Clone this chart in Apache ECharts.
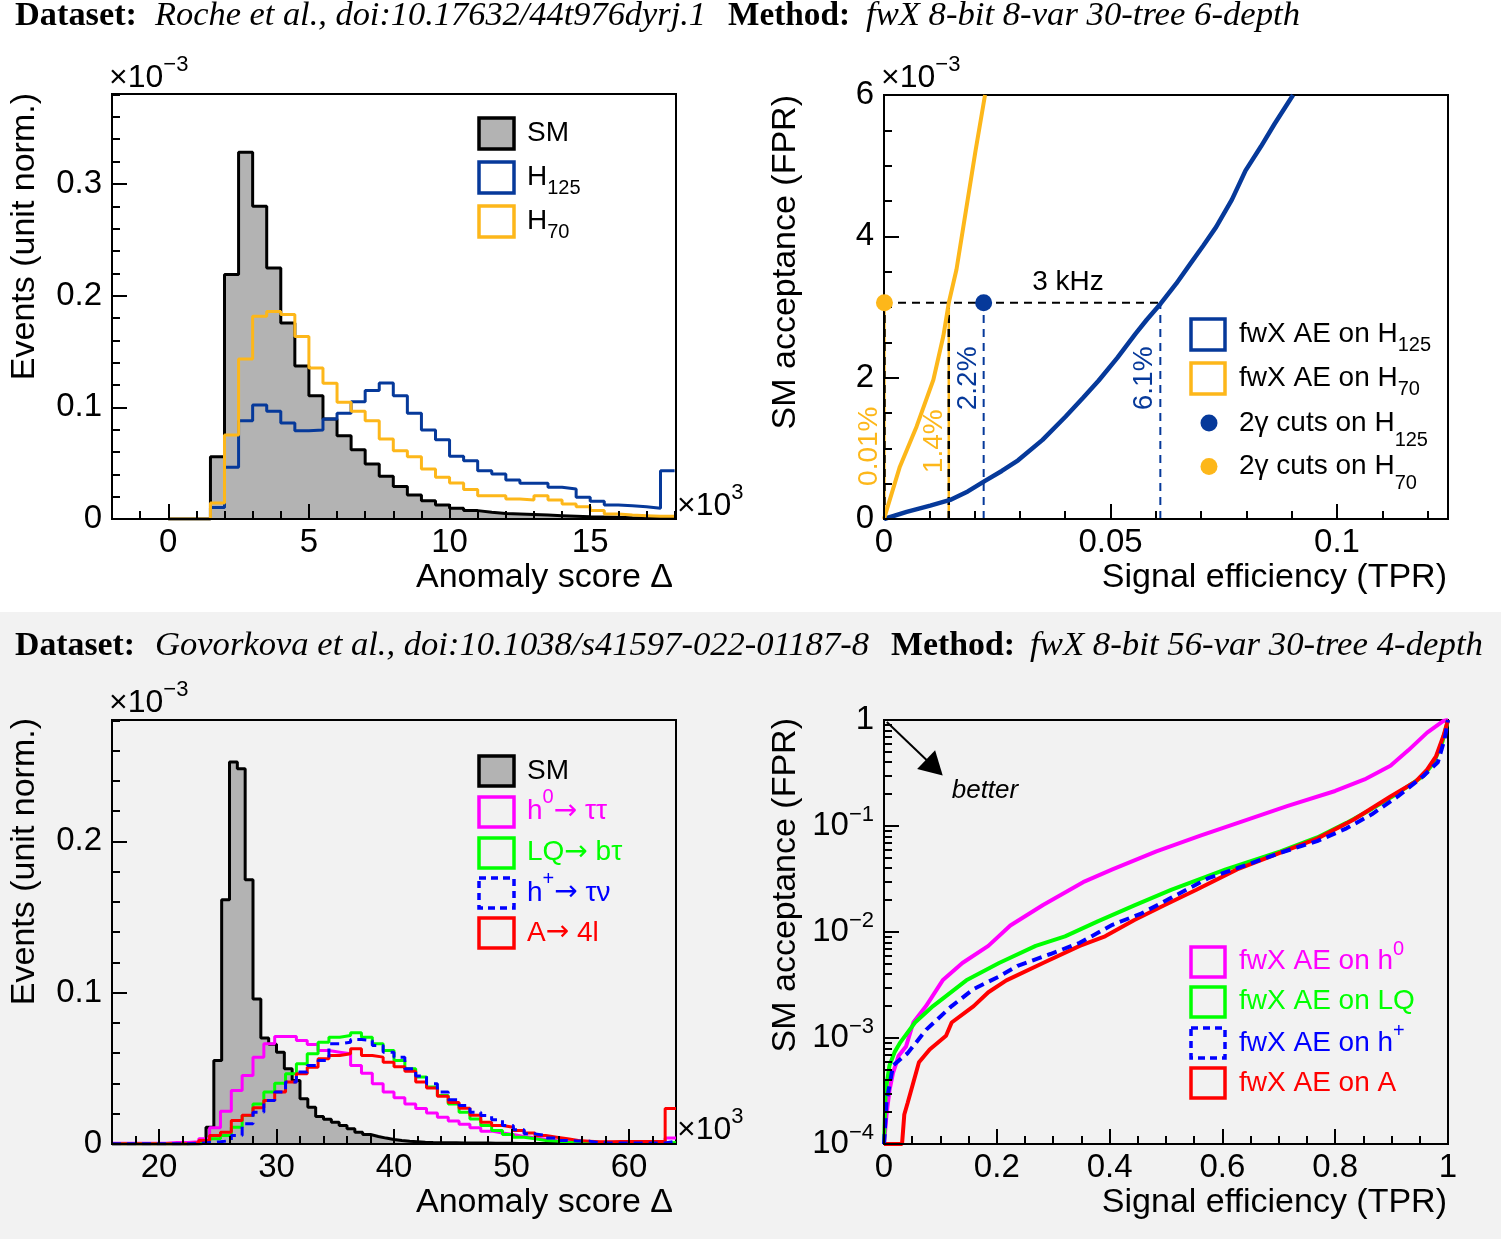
<!DOCTYPE html>
<html><head><meta charset="utf-8">
<script src="https://cdn.jsdelivr.net/npm/echarts@6.0.0/dist/echarts.min.js"></script>
<style>
html,body{margin:0;padding:0;background:#fff;}
#wrap{position:relative;width:1501px;height:1239px;overflow:hidden;}
#bg2{position:absolute;left:0;top:612px;width:1501px;height:627px;background:#f2f2f2;}
#c{position:absolute;left:0;top:0;width:1501px;height:1239px;}
</style></head><body>
<div id="wrap"><div id="bg2"></div><div id="c"></div></div>
<script>
// ================= DATA =================
// --- top-left: anomaly score histograms (x1e3), unit norm (x1e-3) ---
const tlBinStart = 0, tlBinWidth = 0.5;
const tlSM = [0,0,0,0.0558,0.2188,0.3284,0.280,0.2248,0.1755,0.137,
  0.1104,0.0896,0.0746,0.0621,0.0493,0.0382,0.029,0.0215,0.0164,0.0125,
  0.0096,0.0075,0.006,0.005,0.0045,0.004,0.0035,0.003,0.0025,0.002,
  0.0018,0.0015,0.0012,0.001,0.0008,0.0008];
const tlH125 = [0,0,0,0.0104,0.0463,0.088,0.102,0.0964,0.086,0.079,
  0.0797,0.0896,0.0946,0.105,0.115,0.1218,0.1104,0.0946,0.0797,0.071,
  0.0561,0.0522,0.0433,0.0403,0.0349,0.0319,0.0319,0.0284,0.0269,0.0194,
  0.0158,0.0125,0.0119,0.011,0.0096,0.0433];
const tlH70 = [0,0,0,0.0143,0.0752,0.1433,0.1815,0.1857,0.183,0.1633,
  0.1352,0.1215,0.1045,0.0964,0.088,0.0716,0.0612,0.0558,0.0448,0.0373,
  0.0322,0.0263,0.0209,0.0209,0.0179,0.017,0.0209,0.017,0.0134,0.011,
  0.0075,0.0045,0.0036,0.003,0.0024,0.0024];
const tlXTicks = [0,5,10,15];
const tlYTicks = [0,0.1,0.2,0.3];

// --- top-right: ROC (TPR vs FPR x1e-3) ---
const trAEH125 = [[0,0],[0.005,0.1],[0.0102,0.19],[0.0146,0.27],[0.0185,0.39],[0.0223,0.54],[0.026,0.68],
  [0.0296,0.83],[0.035,1.12],[0.0401,1.45],[0.044,1.72],[0.0474,1.96],[0.0515,2.28],[0.0555,2.62],[0.058,2.82],
  [0.0611,3.05],[0.0645,3.33],[0.0676,3.61],[0.0705,3.87],[0.0733,4.13],[0.0768,4.52],[0.0798,4.93],
  [0.0832,5.27],[0.0862,5.59],[0.0903,6.0]];
const trAEH70 = [[0,0],[0.0006,0.13],[0.0035,0.74],[0.0072,1.31],[0.0109,1.97],[0.0131,2.59],
  [0.0143,3.06],[0.016,3.53],[0.0182,4.41],[0.0202,5.21],[0.0223,6.0]];
const trRate = 3.06;                 // SM acceptance for 3 kHz
const trCutH125 = [0.022, 3.06];     // 2gamma cuts on H125
const trCutH70 = [0.0001, 3.06];     // 2gamma cuts on H70
const trAEH125AtRate = 0.061, trAEH70AtRate = 0.0143;
const trPctLabels = [
  {text:'0.01%', x:0.0001, y:1.03, c:'orange', dx:-15},
  {text:'1.4%', x:0.011, y:1.10, c:'orange', dx:0},
  {text:'2.2%', x:0.0185, y:1.99, c:'blue', dx:0},
  {text:'6.1%', x:0.0575, y:1.99, c:'blue', dx:0}];
const trRateLabel = {text:'3 kHz', x:0.0406, y:3.35};
const trXTicks = [0,0.05,0.1];
const trYTicks = [0,2,4,6];

// --- bottom-left: anomaly score histograms (x1e3) ---
const blSMBinStart = 16, blSMBinWidth = 48/72;
const blSM = [0,0,0,0,0,0,0,0,0,0,
  0,0.0005,0.0111,0.0552,0.1614,0.2524,0.248,0.1746,0.0959,0.07,
  0.066,0.0607,0.0497,0.042,0.0299,0.0243,0.0182,0.0164,0.0144,0.0122,
  0.01,0.0078,0.0063,0.005,0.0039,0.003,0.0023,0.0018,0.0015,0.0012,
  0.001,0.0009,0.0008,0.0008,0.0007,0.0007,0.0006,0.0006,0.0005,0.0005,
  0.0005,0.0004,0.0004,0.0004,0.0004,0.0004,0.0004,0.0004,0.0004,0.0004,
  0.0004,0.0003,0.0003,0.0003,0.0003,0.0003,0.0003,0.0003,0.0003,0.0003,
  0.0003,0.0003];
const blSigBinStart = 16, blSigBinWidth = 48/52;
const blH0 = [0.0005,0.0005,0.0005,0.0005,0.0005,0.001,0.001,0.0015,0.0034,0.0107,
  0.0217,0.0353,0.0453,0.0574,0.0662,0.071,0.071,0.0684,0.0658,0.0618,
  0.0607,0.0596,0.0519,0.0468,0.0398,0.0343,0.0305,0.0265,0.0235,0.0205,
  0.0177,0.0152,0.013,0.0107,0.0085,0.0072,0.0063,0.005,0.0041,0.0032,
  0.0023,0.0019,0.0019,0.0012,0.0012,0.0012,0.001,0.001,0.001,0.001,
  0.001,0.004];
const blLQ = [0.0002,0.0002,0.0002,0.0002,0.0002,0.0002,0.0002,0.0005,0.0015,0.0034,
  0.0056,0.0111,0.0188,0.0265,0.0343,0.0402,0.0464,0.053,0.0596,0.0673,
  0.0706,0.0717,0.0735,0.0706,0.0662,0.0618,0.0552,0.0497,0.0442,0.0376,
  0.0321,0.0265,0.021,0.0166,0.0122,0.0089,0.0063,0.0045,0.0034,0.0023,
  0.0019,0.0012,0.001,0.0008,0.0008,0.0007,0.0006,0.0006,0.0005,0.0005,
  0.0005,0.001];
const blHp = [0.0002,0.0002,0.0002,0.0002,0.0002,0.0002,0.0002,0.0004,0.001,0.0015,
  0.0023,0.0056,0.0133,0.021,0.0287,0.0343,0.0409,0.0475,0.0519,0.0552,
  0.0662,0.0673,0.0691,0.0684,0.0651,0.0607,0.0574,0.0497,0.045,0.0398,
  0.0343,0.0293,0.0254,0.021,0.0188,0.016,0.0122,0.0094,0.0067,0.0056,
  0.0039,0.0023,0.0019,0.0019,0.0008,0.0007,0.0007,0.0007,0.0007,0.0007,
  0.0007,0.0018];
const blA = [0.0002,0.0002,0.0002,0.0002,0.0002,0.0002,0.0002,0.0008,0.0023,0.0056,
  0.0078,0.0155,0.019,0.024,0.0287,0.0343,0.0409,0.0464,0.0508,0.0563,
  0.0585,0.0596,0.0629,0.0585,0.0574,0.0541,0.051,0.048,0.041,0.037,
  0.0315,0.0275,0.0237,0.019,0.0144,0.0122,0.0111,0.0089,0.0072,0.0056,
  0.0045,0.0034,0.0023,0.0019,0.0015,0.0015,0.0017,0.0017,0.0017,0.0017,
  0.0017,0.0235];
const blXTicks = [20,30,40,50,60];
const blYTicks = [0,0.1,0.2];

// --- bottom-right: ROC, log FPR ---
const brH0 = [[0,1e-4],[0.0045,1.9e-4],[0.0097,3.2e-4],[0.016,4.7e-4],[0.026,6.8e-4],[0.039,8.3e-4],
  [0.052,1.4e-3],[0.0745,2.0e-3],[0.104,3.5e-3],[0.139,5.1e-3],[0.185,7.4e-3],[0.224,1.15e-2],
  [0.282,1.8e-2],[0.353,2.95e-2],[0.405,3.9e-2],[0.483,5.75e-2],[0.561,8.1e-2],[0.638,0.112],
  [0.716,0.155],[0.80,0.214],[0.852,0.275],[0.898,0.37],[0.93,0.52],[0.963,0.76],[0.992,0.98],[1,1]];
const brLQ = [[0,1e-4],[0.003,3.2e-4],[0.0097,5.5e-4],[0.019,7.4e-4],[0.029,9.1e-4],[0.055,1.4e-3],
  [0.087,2.0e-3],[0.146,3.5e-3],[0.204,5.1e-3],[0.269,7.4e-3],[0.321,9.1e-3],[0.379,1.26e-2],
  [0.444,1.78e-2],[0.509,2.5e-2],[0.606,3.9e-2],[0.703,5.75e-2],[0.768,7.8e-2],[0.82,0.107],
  [0.865,0.145],[0.911,0.204],[0.956,0.295],[0.975,0.4],[0.99,0.62],[1,1]];
const brHp = [[0,1e-4],[0.0045,2.5e-4],[0.016,5.5e-4],[0.029,6.3e-4],[0.042,7.2e-4],[0.075,1.2e-3],
  [0.12,2.0e-3],[0.159,2.9e-3],[0.204,3.8e-3],[0.237,4.8e-3],[0.295,6.2e-3],[0.347,7.9e-3],
  [0.405,1.17e-2],[0.457,1.5e-2],[0.509,2.1e-2],[0.574,3.2e-2],[0.638,4.2e-2],[0.703,5.6e-2],
  [0.768,7.2e-2],[0.82,9.5e-2],[0.865,0.129],[0.911,0.19],[0.956,0.295],[0.982,0.4],[0.994,0.66],[1,1]];
const brA = [[0,1e-4],[0.032,1e-4],[0.036,1.9e-4],[0.042,2.45e-4],[0.052,3.8e-4],[0.062,5.9e-4],
  [0.081,7.8e-4],[0.11,1.05e-3],[0.12,1.4e-3],[0.159,2.0e-3],[0.185,2.7e-3],[0.217,3.5e-3],
  [0.282,5.1e-3],[0.347,7.4e-3],[0.392,9.1e-3],[0.444,1.3e-2],[0.496,1.78e-2],[0.554,2.5e-2],
  [0.626,3.9e-2],[0.703,5.6e-2],[0.768,7.6e-2],[0.833,0.115],[0.898,0.19],[0.943,0.263],
  [0.963,0.34],[0.979,0.457],[0.992,0.71],[1,1]];
const brArrow = [[0.005,0.957],[0.0894,0.356]];
const brBetter = [0.179, 0.214];
const brXTicks = [0,0.2,0.4,0.6,0.8,1];

// ================= STYLE =================
const SANS = 'Liberation Sans', SERIF = 'Liberation Serif', ARW = 'DejaVu Sans';
const C_BLUE = '#06399a', C_ORANGE = '#fdb71a', C_GRAY = '#b3b3b3';
const C_MAG = '#ff00ff', C_GRN = '#00ff00', C_BLU2 = '#0000ff', C_RED = '#ff0000';
const COL = {orange: C_ORANGE, blue: C_BLUE};

// ================= HELPERS =================
function steps(start, width, vals) {
  const out = [];
  vals.forEach((v, i) => { const lo = start + i * width; out.push([lo, v], [lo + width, v]); });
  return out;
}
const mctx = document.createElement('canvas').getContext('2d');
function measure(text, size, family, style, weight) {
  mctx.font = (style || 'normal') + ' ' + (weight || 'normal') + ' ' + size + 'px "' + (family || SANS) + '"';
  return mctx.measureText(text).width;
}
function fmtNum(v) { return v === 0 ? '0' : String(+v.toFixed(3)); }

function mkAxis(dim, gi, o) {
  const a = {
    type: o.type || 'value', gridIndex: gi, min: o.min, max: o.max,
    position: dim === 'x' ? 'bottom' : 'left', offset: 0, z: 5,
    axisLine: {show: !o.minor, onZero: false, lineStyle: {color: '#000', width: 2}},
    axisTick: {show: true, inside: true, length: o.minor ? 8 : 15, lineStyle: {color: '#000', width: 2}},
    axisLabel: {show: !o.minor, color: '#000', fontFamily: SANS, fontSize: 33, margin: dim === 'x' ? 7 : 10,
      formatter: o.fmt || fmtNum},
    splitLine: {show: false}, splitArea: {show: false}, minorTick: {show: false}, minorSplitLine: {show: false}
  };
  if (o.ticks) a.axisTick.customValues = o.ticks;
  if (o.labels) a.axisLabel.customValues = o.labels;
  if (o.rich) a.axisLabel.rich = o.rich;
  return a;
}
function range(a, b, step, skip) { const r = []; for (let i = a; i <= b; i++) if (!skip(i)) r.push(+(i * step).toFixed(6)); return r; }

// minor ticks
const tlMinorX = range(-1, 18, 1, i => i % 5 === 0);
const tlMinorY = range(1, 19, 0.02, i => i % 5 === 0);
const trMinorX = range(1, 12, 0.01, i => i % 5 === 0);
const trMinorY = range(1, 11, 0.5, i => i % 4 === 0);
const blMinorX = range(9, 31, 2, i => i % 5 === 0);
const blMinorY = range(1, 14, 0.02, i => i % 5 === 0);
const brMinorX = range(1, 19, 0.05, i => i % 4 === 0);
const brMinorY = [];
for (let e = -4; e <= -1; e++) for (let m = 2; m <= 9; m++) brMinorY.push(Math.log10(m) + e);

const xAxis = [
  mkAxis('x', 0, {min: -2, max: 18.05, ticks: tlXTicks, labels: tlXTicks}),
  mkAxis('x', 0, {min: -2, max: 18.05, ticks: tlMinorX, minor: true}),
  mkAxis('x', 1, {min: 0, max: 0.1245, ticks: trXTicks, labels: trXTicks}),
  mkAxis('x', 1, {min: 0, max: 0.1245, ticks: trMinorX, minor: true}),
  mkAxis('x', 2, {min: 16, max: 64, ticks: blXTicks, labels: blXTicks}),
  mkAxis('x', 2, {min: 16, max: 64, ticks: blMinorX, minor: true}),
  mkAxis('x', 3, {min: 0, max: 1, ticks: brXTicks, labels: brXTicks}),
  mkAxis('x', 3, {min: 0, max: 1, ticks: brMinorX, minor: true})
];
const logRich = {n: {fontSize: 33, fontFamily: SANS, color: '#000', lineHeight: 44},
  s: {fontSize: 22, fontFamily: SANS, color: '#000', lineHeight: 22, verticalAlign: 'top'}};
const yAxis = [
  mkAxis('y', 0, {min: 0, max: 0.3805, ticks: tlYTicks, labels: tlYTicks}),
  mkAxis('y', 0, {min: 0, max: 0.3805, ticks: tlMinorY, minor: true}),
  mkAxis('y', 1, {min: 0, max: 6, ticks: trYTicks, labels: trYTicks}),
  mkAxis('y', 1, {min: 0, max: 6, ticks: trMinorY, minor: true}),
  mkAxis('y', 2, {min: 0, max: 0.2802, ticks: blYTicks, labels: blYTicks}),
  mkAxis('y', 2, {min: 0, max: 0.2802, ticks: blMinorY, minor: true}),
  mkAxis('y', 3, {type: 'log', min: 1e-4, max: 1, rich: logRich,
    fmt: v => { const e = Math.round(Math.log10(v)); return e === 0 ? '{n|1}' : '{n|10}{s|\u2212' + (-e) + '}'; }}),
  mkAxis('y', 3, {min: -4, max: 0, ticks: brMinorY, minor: true})
];
yAxis[6].logBase = 10;

function hist(gi, data, color, extra) {
  return Object.assign({type: 'line', xAxisIndex: gi * 2, yAxisIndex: gi * 2, data, symbol: 'none', showSymbol: false,
    lineStyle: {color, width: 3}, itemStyle: {color}, z: 2, animation: false, silent: true}, extra || {});
}
function curve(gi, data, color, width, type, z) {
  return {type: 'line', xAxisIndex: gi * 2, yAxisIndex: gi * 2, data, symbol: 'none', showSymbol: false,
    lineStyle: {color, width, type: type || 'solid'}, z: z || 3, animation: false, silent: true};
}

const brH0Series = curve(3, brH0, C_MAG, 4);
brH0Series.markLine = {silent: true, animation: false, symbol: ['none', 'triangle'], symbolSize: [26, 23],
  lineStyle: {color: '#000', width: 2, type: 'solid'}, label: {show: false},
  data: [[{coord: brArrow[0]}, {coord: brArrow[1]}]]};

const series = [
  // top-left
  hist(0, steps(tlBinStart, tlBinWidth, tlSM), '#000', {areaStyle: {color: C_GRAY, opacity: 1}}),
  hist(0, steps(tlBinStart, tlBinWidth, tlH125), C_BLUE),
  hist(0, steps(tlBinStart, tlBinWidth, tlH70), C_ORANGE),
  // top-right guides
  curve(1, [[0, trRate], [trAEH125AtRate, trRate]], '#000', 2, [8, 6], 2),
  curve(1, [[trCutH70[0], 0], [trCutH70[0], trRate]], C_ORANGE, 2.5, 'solid', 2),
  curve(1, [[trCutH70[0], 0], [trCutH70[0], trRate]], '#000', 2.5, [8, 6], 2),
  curve(1, [[trAEH70AtRate, 0], [trAEH70AtRate, trRate]], C_ORANGE, 2.5, 'solid', 2),
  curve(1, [[trAEH70AtRate, 0], [trAEH70AtRate, trRate]], '#000', 2.5, [8, 6], 2),
  curve(1, [[trCutH125[0], 0], [trCutH125[0], trRate]], C_BLUE, 2, [8, 6], 2),
  curve(1, [[trAEH125AtRate, 0], [trAEH125AtRate, trRate]], C_BLUE, 2, [8, 6], 2),
  curve(1, trAEH125, C_BLUE, 4.5),
  curve(1, trAEH70, C_ORANGE, 4),
  {type: 'scatter', xAxisIndex: 2, yAxisIndex: 2, data: [trCutH125], symbolSize: 17, itemStyle: {color: C_BLUE, opacity: 1}, z: 10, animation: false, silent: true},
  {type: 'scatter', xAxisIndex: 2, yAxisIndex: 2, data: [trCutH70], symbolSize: 17, itemStyle: {color: C_ORANGE, opacity: 1}, z: 10, animation: false, silent: true},
  // bottom-left
  hist(2, steps(blSMBinStart, blSMBinWidth, blSM), '#000', {areaStyle: {color: C_GRAY, opacity: 1}}),
  hist(2, steps(blSigBinStart, blSigBinWidth, blH0), C_MAG),
  hist(2, steps(blSigBinStart, blSigBinWidth, blLQ), C_GRN),
  hist(2, steps(blSigBinStart, blSigBinWidth, blA), C_RED),
  hist(2, steps(blSigBinStart, blSigBinWidth, blHp), C_BLU2, {lineStyle: {color: C_BLU2, width: 3, type: [9, 6]}}),
  // bottom-right
  brH0Series,
  curve(3, brLQ, C_GRN, 4),
  curve(3, brHp, C_BLU2, 4, [10, 6], 4),
  curve(3, brA, C_RED, 4)
];

// ================= GRAPHICS (text, legends) =================
const G = [];
function txt(x, y, text, o) {
  o = o || {};
  G.push({type: 'text', x, y, rotation: o.rot || 0, silent: true, z: 100, scaleX: o.sx || 1,
    style: {text, fill: o.color || '#000', fontSize: o.size || 28, fontFamily: o.family || SANS,
      fontStyle: o.style || 'normal', fontWeight: o.weight || 'normal', align: o.align || 'left', verticalAlign: 'middle'}});
}
function comp(x, y, parts, size, color) {
  let cx = x;
  parts.forEach(p => {
    const kind = p[1] || 'n';
    const fam = p[3] || SANS;
    const s = kind === 'n' ? size : Math.round(size * 0.7);
    const dy = kind === 'sub' ? (p[2] != null ? p[2] : 11) : kind === 'sup' ? -(p[2] != null ? p[2] : 12) : 0;
    txt(cx, y + dy, p[0], {size: s, color, family: fam});
    cx += measure(p[0], s, fam);
  });
}
function box(x, y, w, h, stroke, fill, dash) {
  G.push({type: 'rect', silent: true, z: 100, shape: {x, y, width: w, height: h},
    style: {fill: fill || 'none', stroke, lineWidth: 3.5, lineDash: dash || null}});
}
function dot(cx, cy, r, color) {
  G.push({type: 'circle', silent: true, z: 100, shape: {cx, cy, r}, style: {fill: color}});
}
function header(segs, y) {
  segs.forEach(s => {
    const st = s[1] === 'italic' ? 'italic' : 'normal', wt = s[1] === 'bold' ? 'bold' : 'normal';
    const w = measure(s[0], 33, SERIF, st, wt);
    txt(s[2], y, s[0], {size: 33, family: SERIF, style: st, weight: wt, sx: (s[3] - s[2]) / w});
  });
}
header([['Dataset:', 'bold', 15, 137], ['Roche et al., doi:10.17632/44t976dyrj.1', 'italic', 155, 706],
  ['Method:', 'bold', 728, 850], ['fwX 8-bit 8-var 30-tree 6-depth', 'italic', 866, 1300]], 16);
header([['Dataset:', 'bold', 15, 135], ['Govorkova et al., doi:10.1038/s41597-022-01187-8', 'italic', 155, 869],
  ['Method:', 'bold', 891, 1015], ['fwX 8-bit 56-var 30-tree 4-depth', 'italic', 1030, 1483]], 646);

// exponent labels
comp(109, 78, [['\u00d710'], ['\u22123', 'sup', 13]], 32, '#000');
comp(881, 78, [['\u00d710'], ['\u22123', 'sup', 13]], 32, '#000');
comp(109, 703, [['\u00d710'], ['\u22123', 'sup', 13]], 32, '#000');
comp(677, 506, [['\u00d710'], ['3', 'sup', 13]], 32, '#000');
comp(677, 1130, [['\u00d710'], ['3', 'sup', 13]], 32, '#000');

// axis titles
const TS = 34;
txt(673, 578, 'Anomaly score \u0394', {size: TS, align: 'right'});
txt(1447, 578, 'Signal efficiency (TPR)', {size: TS, align: 'right'});
txt(673, 1203, 'Anomaly score \u0394', {size: TS, align: 'right'});
txt(1447, 1203, 'Signal efficiency (TPR)', {size: TS, align: 'right'});
txt(25, 93, 'Events (unit norm.)', {size: TS, align: 'right', rot: Math.PI / 2});
txt(786, 95, 'SM acceptance (FPR)', {size: TS, align: 'right', rot: Math.PI / 2});
txt(25, 718, 'Events (unit norm.)', {size: TS, align: 'right', rot: Math.PI / 2});
txt(786, 718, 'SM acceptance (FPR)', {size: TS, align: 'right', rot: Math.PI / 2});

// legends
box(479, 118, 35, 31, '#000', C_GRAY); comp(527, 133.5, [['SM']], 28, '#000');
box(479, 162, 35, 31, C_BLUE); comp(527, 177, [['H'], ['125', 'sub']], 28, '#000');
box(479, 206, 35, 31, C_ORANGE); comp(527, 221, [['H'], ['70', 'sub']], 28, '#000');

box(1191, 319, 34, 31, C_BLUE); comp(1239, 334.5, [['fwX AE on H'], ['125', 'sub']], 28, '#000');
box(1191, 363, 34, 31, C_ORANGE); comp(1239, 378.5, [['fwX AE on H'], ['70', 'sub']], 28, '#000');
dot(1209, 423, 8.5, C_BLUE); comp(1239, 423, [['2\u03b3 cuts on H'], ['125', 'sub', 17]], 28, '#000');
dot(1209, 466.5, 8.5, C_ORANGE); comp(1239, 466.5, [['2\u03b3 cuts on H'], ['70', 'sub', 17]], 28, '#000');

box(479, 756, 35, 30, '#000', C_GRAY); comp(527, 771, [['SM']], 28, '#000');
box(479, 797, 35, 30, C_MAG); comp(527, 811.5, [['h'], ['0', 'sup', 14], ['\u2192', 'n', 0, ARW], [' \u03c4\u03c4']], 28, C_MAG);
box(479, 838, 35, 30, C_GRN); comp(527, 852.5, [['LQ'], ['\u2192', 'n', 0, ARW], [' b\u03c4']], 28, C_GRN);
box(479, 878, 35, 30, C_BLU2, null, [7, 5]); comp(527, 893, [['h'], ['+', 'sup', 14], ['\u2192', 'n', 0, ARW], [' \u03c4\u03bd']], 28, C_BLU2);
box(479, 918, 35, 30, C_RED); comp(527, 933, [['A'], ['\u2192', 'n', 0, ARW], [' 4l']], 28, C_RED);

box(1191, 947, 34, 30, C_MAG); comp(1239, 961.7, [['fwX AE on h'], ['0', 'sup', 12]], 28, C_MAG);
box(1191, 987, 34, 30, C_GRN); comp(1239, 1001.7, [['fwX AE on LQ']], 28, C_GRN);
box(1191, 1028, 34, 30, C_BLU2, null, [7, 5]); comp(1239, 1043, [['fwX AE on h'], ['+', 'sup', 12]], 28, C_BLU2);
box(1191, 1068, 34, 30, C_RED); comp(1239, 1083.3, [['fwX AE on A']], 28, C_RED);

const gridBase = {show: true, borderColor: '#000', borderWidth: 2, containLabel: false, outerBoundsMode: 'none'};
const option = {
  animation: false,
  grid: [
    Object.assign({left: 112, top: 94, width: 564, height: 425, backgroundColor: '#fff'}, gridBase),
    Object.assign({left: 884, top: 95, width: 564, height: 424, backgroundColor: '#fff'}, gridBase),
    Object.assign({left: 112, top: 720, width: 564, height: 424, backgroundColor: '#f2f2f2'}, gridBase),
    Object.assign({left: 884, top: 720, width: 564, height: 424, backgroundColor: '#f2f2f2'}, gridBase)
  ],
  xAxis, yAxis, series
};
const chart = echarts.init(document.getElementById('c'), null, {width: 1501, height: 1239});
chart.setOption(option);

// data-anchored annotations, placed through the axes' own scales
const trFinder = {xAxisIndex: 2, yAxisIndex: 2};
trPctLabels.forEach(d => {
  const p = chart.convertToPixel(trFinder, [d.x, d.y]);
  txt(p[0] + d.dx, p[1], d.text, {size: 28, color: COL[d.c], align: 'center', rot: Math.PI / 2});
});
(function () {
  const p = chart.convertToPixel(trFinder, [trRateLabel.x, trRateLabel.y]);
  txt(p[0], p[1], trRateLabel.text, {size: 28, align: 'center'});
  const q = chart.convertToPixel({xAxisIndex: 6, yAxisIndex: 6}, brBetter);
  txt(q[0], q[1], 'better', {size: 26, align: 'center', style: 'italic'});
})();
chart.setOption({graphic: {elements: G}});
</script></body></html>
